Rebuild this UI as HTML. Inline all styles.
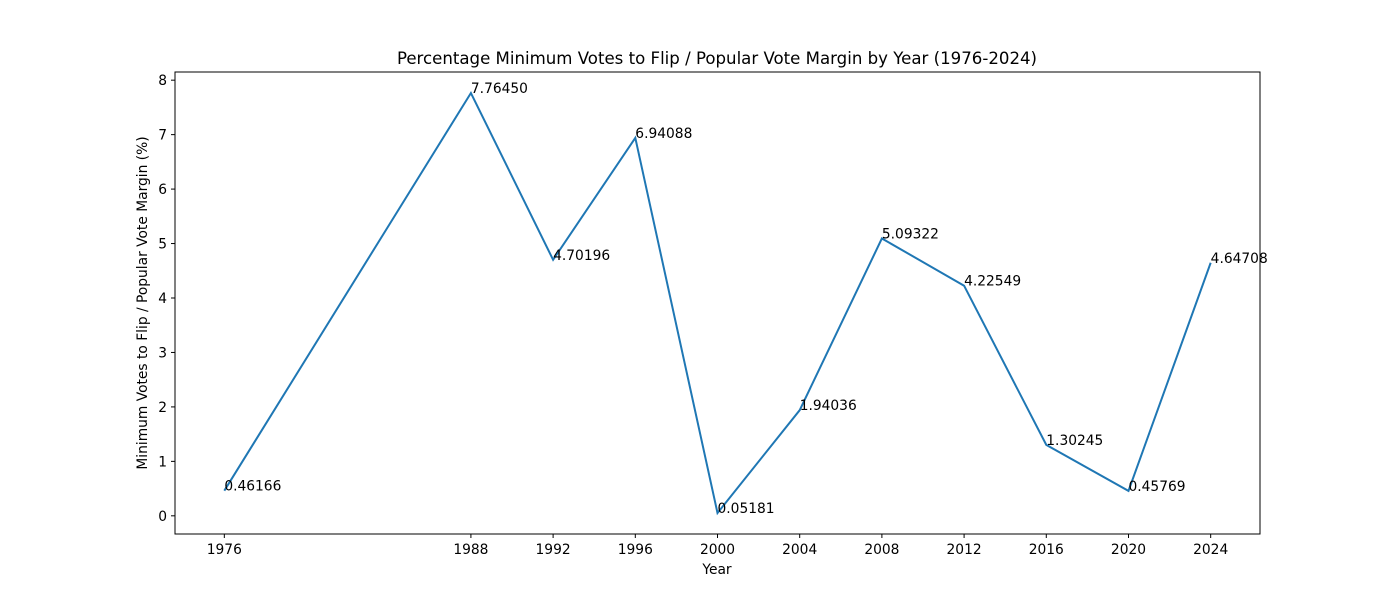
<!DOCTYPE html>
<html><head><meta charset="utf-8"><style>
body{margin:0;background:#fff;}
svg{display:block;font-family:"DejaVu Sans","Liberation Sans",sans-serif;}
</style></head><body>
<svg id="chart" width="1400" height="600">
<rect width="1400" height="600" fill="#fff"/>
<text x="717" y="64" font-size="16.6" text-anchor="middle">Percentage Minimum Votes to Flip / Popular Vote Margin by Year (1976-2024)</text>
<g id="ticks"></g>
<path id="line" fill="none" stroke="#1f77b4" stroke-width="2"/>
<g id="labels"></g>
<rect x="175" y="72" width="1085" height="462" fill="none" stroke="#000" stroke-width="1"/>
<text x="717" y="574" font-size="13.8" text-anchor="middle">Year</text>
<text transform="translate(147,303) rotate(-90)" font-size="13.8" text-anchor="middle">Minimum Votes to Flip / Popular Vote Margin (%)</text>
</svg>
<script>
const years=[1976,1988,1992,1996,2000,2004,2008,2012,2016,2020,2024];
const values=[0.46166,7.76450,4.70196,6.94088,0.05181,1.94036,5.09322,4.22549,1.30245,0.45769,4.64708];
const valueLabels=["0.46166","7.76450","4.70196","6.94088","0.05181","1.94036","5.09322","4.22549","1.30245","0.45769","4.64708"];
const yTicks=[0,1,2,3,4,5,6,7,8];
const L=175,R=1260,T=72,B=534;
const xmin=Math.min(...years),xmax=Math.max(...years),xm=(xmax-xmin)*0.05;
const vmin=Math.min(...values),vmax=Math.max(...values),ym=(vmax-vmin)*0.05;
const x=v=>L+(v-(xmin-xm))/((xmax+xm)-(xmin-xm))*(R-L);
const y=v=>B-(v-(vmin-ym))/((vmax+ym)-(vmin-ym))*(B-T);
const NS="http://www.w3.org/2000/svg";
const tg=document.getElementById('ticks'),lg=document.getElementById('labels');
function mk(tag,attrs,parent,txt){const e=document.createElementNS(NS,tag);for(const k in attrs)e.setAttribute(k,attrs[k]);if(txt!==undefined)e.textContent=txt;parent.appendChild(e);return e;}
years.forEach(yr=>{
 const t=mk('line',{x1:x(yr),x2:x(yr),y1:B,y2:B+4,stroke:'#000'},tg);
 
 
 const l=mk('text',{x:x(yr),y:B+20,'font-size':13.8,'text-anchor':'middle'},tg,yr);
 
 
});
yTicks.forEach(v=>{
 const t=mk('line',{x1:L-4,x2:L,y1:y(v),y2:y(v),stroke:'#000'},tg);
 
 
 const l=mk('text',{x:L-8,y:y(v)+5,'font-size':13.8,'text-anchor':'end'},tg,v);
 
 
});
document.getElementById('line').setAttribute('d',years.map((yr,i)=>(i?'L':'M')+x(yr)+','+y(values[i])).join(''));
years.forEach((yr,i)=>{
 const l=mk('text',{x:x(yr),y:y(values[i]),'font-size':13.8},lg,valueLabels[i]);
 
 
});
</script>
</body></html>
